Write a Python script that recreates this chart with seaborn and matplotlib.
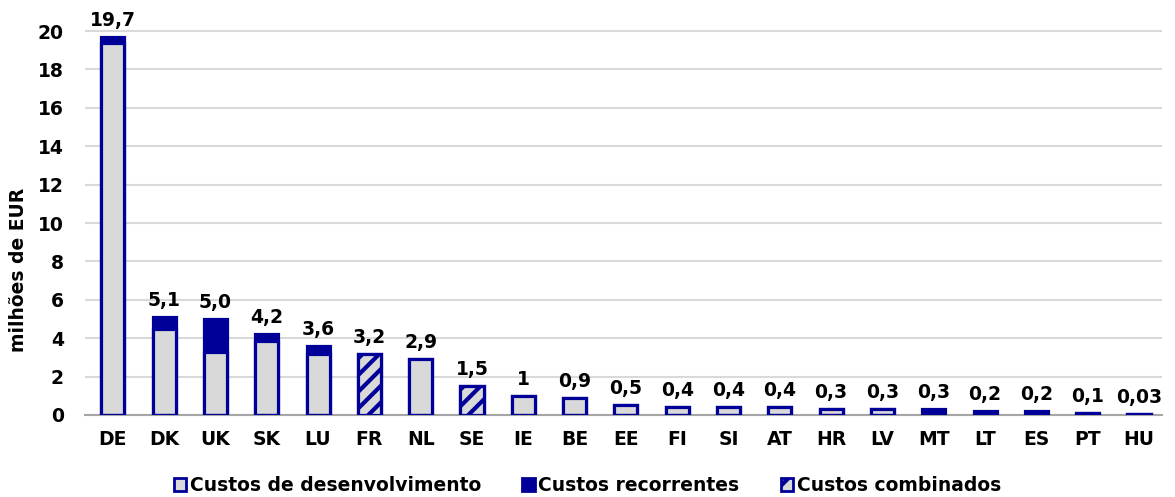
import matplotlib
matplotlib.use("Agg")
import matplotlib.pyplot as plt
from matplotlib.patches import Patch
import seaborn as sns

# Costs per country, in millions of EUR
countries = ["DE", "DK", "UK", "SK", "LU", "FR", "NL", "SE", "IE", "BE", "EE",
             "FI", "SI", "AT", "HR", "LV", "MT", "LT", "ES", "PT", "HU"]
development = [19.4, 4.5, 3.3, 3.85, 3.2, 0, 2.9, 0, 1.0, 0.9, 0.5,
               0.4, 0.4, 0.4, 0.3, 0.3, 0, 0, 0, 0.1, 0.03]
recurring = [0.3, 0.6, 1.7, 0.35, 0.4, 0, 0, 0, 0, 0, 0,
             0, 0, 0, 0, 0, 0.3, 0.2, 0.2, 0, 0]
combined = [0, 0, 0, 0, 0, 3.2, 0, 1.5, 0, 0, 0,
            0, 0, 0, 0, 0, 0, 0, 0, 0, 0]
value_labels = ["19,7", "5,1", "5,0", "4,2", "3,6", "3,2", "2,9", "1,5", "1", "0,9", "0,5",
                "0,4", "0,4", "0,4", "0,3", "0,3", "0,3", "0,2", "0,2", "0,1", "0,03"]
y_ticks = [0, 2, 4, 6, 8, 10, 12, 14, 16, 18, 20]
legend_labels = ["Custos de desenvolvimento", "Custos recorrentes", "Custos combinados"]
y_label = "milhões de EUR"

NAVY = "#000099"
GREY = "#D9D9D9"
FS = 13.5

sns.set_theme(style="white")
plt.rcParams["font.family"] = ["DejaVu Sans"]
plt.rcParams["text.color"] = "black"
plt.rcParams["xtick.color"] = "black"
plt.rcParams["ytick.color"] = "black"
plt.rcParams["axes.labelcolor"] = "black"
plt.rcParams["hatch.linewidth"] = 3.0
plt.rcParams["hatch.color"] = NAVY

totals = [d + r + c for d, r, c in zip(development, recurring, combined)]

fig = plt.figure(figsize=(11.75, 4.97), dpi=100)
ax = fig.add_axes([0.072, 0.165, 0.917, 0.7803])

bar_w = 0.45
lw = 2.3
# full stack height in dark blue (recurring part shows on top)
sns.barplot(x=countries, y=totals, color=NAVY, edgecolor=NAVY, linewidth=lw,
            width=bar_w, saturation=1, ax=ax, zorder=3)
# development costs drawn over the lower part
sns.barplot(x=countries, y=development, color=GREY, edgecolor=NAVY, linewidth=lw,
            width=bar_w, saturation=1, ax=ax, zorder=4)
# combined costs, hatched
sns.barplot(x=countries, y=combined, color=GREY, edgecolor=NAVY, linewidth=lw,
            hatch="//", width=bar_w, saturation=1, ax=ax, zorder=5)

for i, (t, lab) in enumerate(zip(totals, value_labels)):
    ax.annotate(lab, (i, t), xytext=(0, 5), textcoords="offset points",
                ha="center", va="bottom", fontsize=FS, fontweight="bold",
                color="black", clip_on=False, zorder=6)

ax.set_ylim(0, 20.2)
ax.set_xlim(-0.55, 20.45)
ax.set_yticks(y_ticks)
ax.set_yticklabels([str(v) for v in y_ticks], fontsize=FS, fontweight="bold")
ax.set_xticks(range(len(countries)))
ax.set_xticklabels(countries, fontsize=FS, fontweight="bold")
ax.tick_params(axis="y", length=0, pad=15)
ax.tick_params(axis="x", length=0, pad=11)
ax.set_xlabel("")
ax.set_ylabel(y_label, fontsize=FS, fontweight="bold")
ax.yaxis.set_label_coords(-0.0525, 0.374)

for s in ["top", "right", "left"]:
    ax.spines[s].set_visible(False)
ax.spines["bottom"].set_color("#A6A6A6")
ax.spines["bottom"].set_linewidth(1.5)
ax.spines["bottom"].set_zorder(2)
ax.yaxis.grid(True, color="#D9D9D9", linewidth=1.5, zorder=0)
ax.set_axisbelow(True)

handles = [
    Patch(facecolor=GREY, edgecolor=NAVY, linewidth=2),
    Patch(facecolor=NAVY, edgecolor=NAVY, linewidth=2),
    Patch(facecolor=GREY, edgecolor=NAVY, linewidth=2, hatch="/"),
]
fig.legend(handles, legend_labels, loc="lower center", bbox_to_anchor=(0.5, -0.03),
           ncol=3, frameon=False, handlelength=0.65, handleheight=0.65,
           handletextpad=0.2, columnspacing=2.2,
           prop={"size": FS, "weight": "bold"})

fig.savefig("out.png", dpi=100)
